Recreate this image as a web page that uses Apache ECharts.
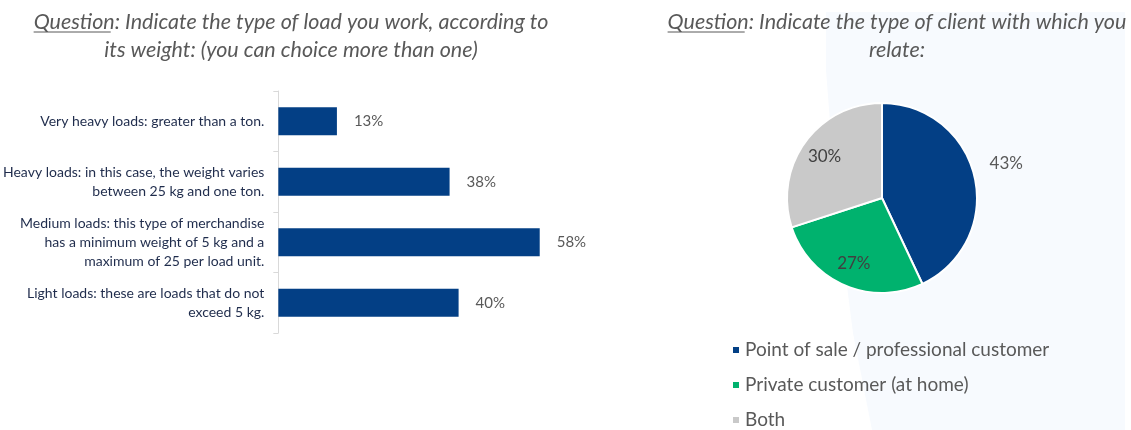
<!DOCTYPE html>
<html>
<head>
<meta charset="utf-8">
<script src="https://cdn.jsdelivr.net/npm/echarts@6/dist/echarts.min.js"></script>
<style>
  html, body { margin: 0; padding: 0; background: #fff; }
  #chart { width: 1131px; height: 430px; }
</style>
</head>
<body>
<div id="chart"></div>
<script>
// Left chart: type of load by weight (multiple choice)
const loadCategories = [
  'Very heavy loads: greater than a ton.',
  'Heavy loads: in this case, the weight varies\nbetween 25 kg and one ton.',
  'Medium loads: this type of merchandise\nhas a minimum weight of 5 kg and a\nmaximum of 25 per load unit.',
  'Light loads: these are loads that do not\nexceed 5 kg.'
];
const loadShares = [13, 38, 58, 40];

// Right chart: type of client
const clientNames = ['Point of sale / professional customer', 'Private customer (at home)', 'Both'];
const clientShares = [43, 27, 30];
const clientColors = ['#033f85', '#00b26e', '#c9c9c9'];

const leftTitle = ['Indicate the type of load you work, according to', 'its weight: (you can choice more than one)'];
const rightTitle = ['Indicate the type of client with which you', 'relate:'];

const font = 'Lato';
const titleSize = 21.5;
const titleFont = 'italic ' + titleSize + 'px ' + font;
const grey = '#595959';

// measure text so "Question" can be underlined like the original slide
const ctx = document.createElement('canvas').getContext('2d');
function textWidth(s) {
  ctx.font = titleFont;
  return ctx.measureText(s).width;
}

function underline(cx, y, firstLine) {
  const full = textWidth('Question: ' + firstLine);
  const q = textWidth('Question');
  const x0 = cx - full / 2 + 5; // italic overhang, nudged by eye
  return {
    type: 'line',
    silent: true,
    shape: { x1: x0, y1: y, x2: x0 + q - 4, y2: y },
    style: { stroke: grey, lineWidth: 1 }
  };
}

function draw() {
  const chart = echarts.init(document.getElementById('chart'));

  const titleStyle = {
    fontFamily: font, fontStyle: 'italic', fontWeight: 'normal',
    fontSize: titleSize, color: grey, lineHeight: 28
  };

  const option = {
    backgroundColor: '#fff',
    textStyle: { fontFamily: font },
    graphic: [
      {
        type: 'polygon',
        silent: true,
        z: -10,
        shape: { points: [[826, 70], [836, 200], [853, 333], [872, 430], [1125, 430], [1125, 12], [826, 12]] },
        style: { fill: '#f7fafe' }
      },
      underline(286, 32, leftTitle[0]),
      underline(892, 32, rightTitle[0])
    ],
    title: [
      {
        text: 'Question: ' + leftTitle[0] + '\n' + leftTitle[1],
        left: 286,
        top: 3,
        textAlign: 'center',
        textStyle: titleStyle
      },
      {
        text: 'Question: ' + rightTitle[0] + '\n' + rightTitle[1],
        left: 892,
        top: 3,
        textAlign: 'center',
        textStyle: titleStyle
      }
    ],
    grid: { left: 278, top: 91, width: 451, height: 242, containLabel: false },
    xAxis: {
      type: 'value',
      min: 0,
      max: 100,
      show: false
    },
    yAxis: {
      type: 'category',
      inverse: true,
      data: loadCategories,
      axisLine: { show: true, lineStyle: { color: '#d9d9d9' } },
      axisTick: { show: true, length: 5, lineStyle: { color: '#d9d9d9' } },
      axisLabel: { color: '#1f2c4c', fontSize: 14, lineHeight: 19, margin: 14, align: 'right', fontFamily: font }
    },
    legend: {
      orient: 'vertical',
      left: 726,
      top: 335,
      height: 95,
      icon: 'rect',
      itemWidth: 8,
      itemHeight: 8,
      itemGap: 15,
      data: clientNames,
      textStyle: { color: grey, fontSize: 19, lineHeight: 20, fontFamily: font }
    },
    series: [
      {
        type: 'bar',
        data: loadShares,
        barWidth: 28,
        itemStyle: { color: '#033f85' },
        label: {
          show: true,
          position: 'right',
          distance: 17,
          formatter: '{c}%',
          color: grey,
          fontSize: 15,
          fontFamily: font
        }
      },
      {
        type: 'pie',
        center: [882, 198],
        radius: 95,
        startAngle: 90,
        clockwise: true,
        legendHoverLink: false,
        itemStyle: { borderColor: '#fff', borderWidth: 2 },
        labelLine: { show: false, length: 8, length2: 2 },
        data: clientNames.map((n, i) => ({
          name: n,
          value: clientShares[i],
          itemStyle: { color: clientColors[i] },
          // trailing empty line lifts the label a little, as in the original
          label: i === 0
            ? { show: true, position: 'outside', formatter: '{c}%\n ', lineHeight: 24, color: grey, fontSize: 17, fontFamily: font }
            : { show: false }
        }))
      },
      {
        // transparent copy only to place the inner labels further out than mid-radius
        type: 'pie',
        center: [882, 198],
        radius: [0, 136],
        startAngle: 90,
        clockwise: true,
        silent: true,
        z: 5,
        itemStyle: { color: 'rgba(0,0,0,0)', borderWidth: 0 },
        labelLine: { show: false },
        data: clientNames.map((n, i) => ({
          name: n,
          value: clientShares[i],
          label: i === 0
            ? { show: false }
            : { show: true, position: 'inside', formatter: '{c}%', color: '#404040', fontSize: 17, fontFamily: font }
        }))
      }
    ]
  };

  chart.setOption(option);
}

if (document.fonts && document.fonts.load) {
  document.fonts.load(titleFont).then(draw, draw);
} else {
  draw();
}
</script>
</body>
</html>
